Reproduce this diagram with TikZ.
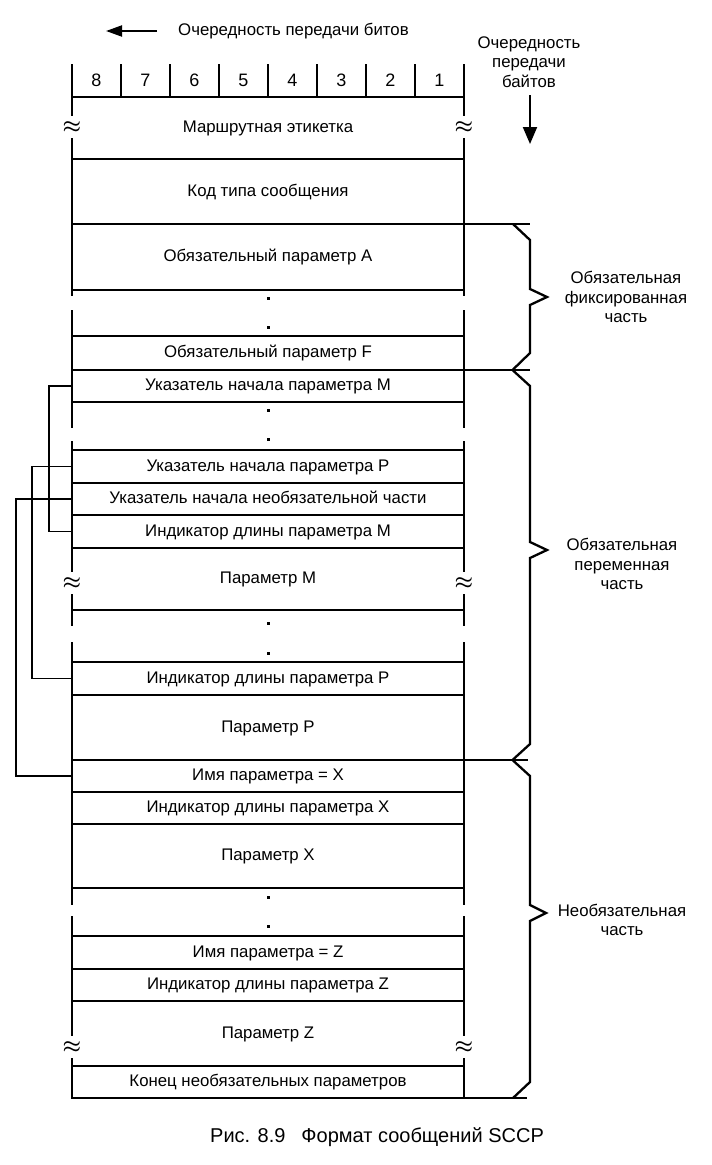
\documentclass[tikz,border=0pt]{standalone}
\usepackage{fontspec}
\setmainfont{Liberation Sans}
\usetikzlibrary{arrows.meta}
\begin{document}
\begin{tikzpicture}[x=1pt,y=-1pt,
  rowline/.style={line width=1.6pt},
  wall/.style={line width=2.6pt},
  tick/.style={line width=1.8pt},
  link/.style={line width=1.5pt},
  bracepath/.style={line width=2.3pt, line join=miter},
  lbl/.style={inner sep=0pt, font=\fontsize{16.8}{19.5}\selectfont},
  rowbox/.style={minimum width=392pt, inner sep=0pt, text height=12pt, text depth=3pt, font=\fontsize{16.8}{19.5}\selectfont},
  brk/.style={fill=white, inner xsep=0pt, inner ysep=5pt, font=\fontsize{22}{22}\selectfont\boldmath},
  dotmark/.style={fill=black}
]
\useasboundingbox[fill=white] (0,0) rectangle (712,1165);

% ---- rows ----
\node[rowbox, minimum height=62pt] (mr)    at (268,128)    {Маршрутная этикетка};
\node[rowbox, minimum height=65pt] (kod)   at (268,191.5)  {Код типа сообщения};
\node[rowbox, minimum height=66pt] (obA)   at (268,257)    {Обязательный параметр A};
\node[rowbox, minimum height=46pt] (d1)    at (268,313)    {};
\node[rowbox, minimum height=34pt] (obF)   at (268,353)    {Обязательный параметр F};
\node[rowbox, minimum height=32pt] (ptrM)  at (268,386)    {Указатель начала параметра M};
\node[rowbox, minimum height=48pt] (d2)    at (268,426)    {};
\node[rowbox, minimum height=33pt] (ptrP)  at (268,466.5)  {Указатель начала параметра P};
\node[rowbox, minimum height=32pt] (ptrO)  at (268,499)    {Указатель начала необязательной части};
\node[rowbox, minimum height=33pt] (indM)  at (268,531.5)  {Индикатор длины параметра M};
\node[rowbox, minimum height=62pt] (parM)  at (268,579)    {Параметр M};
\node[rowbox, minimum height=52pt] (d3)    at (268,636)    {};
\node[rowbox, minimum height=33pt] (indP)  at (268,678.5)  {Индикатор длины параметра P};
\node[rowbox, minimum height=65pt] (parP)  at (268,727.5)  {Параметр P};
\node[rowbox, minimum height=32pt] (nameX) at (268,776)    {Имя параметра = X};
\node[rowbox, minimum height=32pt] (indX)  at (268,808)    {Индикатор длины параметра X};
\node[rowbox, minimum height=64pt] (parX)  at (268,856)    {Параметр X};
\node[rowbox, minimum height=48pt] (d4)    at (268,912)    {};
\node[rowbox, minimum height=33pt] (nameZ) at (268,952.5)  {Имя параметра = Z};
\node[rowbox, minimum height=32pt] (indZ)  at (268,985)    {Индикатор длины параметра Z};
\node[rowbox, minimum height=65pt] (parZ)  at (268,1033.5) {Параметр Z};
\node[rowbox, minimum height=32pt] (endr)  at (268,1082)   {Конец необязательных параметров};

% row separators
\foreach \n in {mr,kod,d1,obF,d2,ptrP,ptrO,indM,parM,d3,indP,parP,indX,parX,d4,nameZ,indZ,parZ,endr}
  \draw[rowline] (\n.north west) -- (\n.north east);
\draw[rowline] (obA.north west) -- (obA.north east) -- ++(66,0);
\draw[rowline] (ptrM.north west) -- (ptrM.north east) -- ++(66,0);
\draw[rowline] (nameX.north west) -- (nameX.north east) -- ++(64,0);
\draw[rowline] (endr.south west) -- (endr.south east) -- ++(63,0);

% dots
\foreach \y in {298,327,410,439,623,653,897,926}
  \fill[dotmark] (266.5,\y-1.5) rectangle (269.5,\y+1.5);

% walls with breaks
\foreach \x in {72,464}{
  \draw[wall] (\x,64) -- (\x,296);
  \draw[wall] (\x,310) -- (\x,428);
  \draw[wall] (\x,441) -- (\x,626);
  \draw[wall] (\x,642) -- (\x,905);
  \draw[wall] (\x,916) -- (\x,1098.8);
}
\foreach \x in {72,464}
  \foreach \y in {127,583,1047}
    \node[brk] at (\x,\y) {$\approx$};

% bit header
\foreach \i in {1,...,7}
  \draw[tick] ({72+\i*49},64) -- ({72+\i*49},97);
\foreach \i in {1,...,8}
  \node[inner sep=0pt, font=\fontsize{18}{20}\selectfont] (b\i) at ({439.5-(\i-1)*49},80) {\i};

% transmission order
\node[lbl, anchor=west] (bitord) at (178,31) {Очередность передачи битов};
\coordinate (bitA) at (157,31);
\coordinate (bitB) at (106,31);
\draw[line width=2pt, -{Triangle[length=16pt,width=11pt]}] (bitA) -- (bitB);

\node[lbl, align=center] (byteord) at (529,62) {Очередность\\передачи\\байтов};
\coordinate (byteA) at (530,95);
\coordinate (byteB) at (530,144);
\draw[line width=2pt, -{Triangle[length=17pt,width=14pt]}] (byteA) -- (byteB);

% pointer connectors
\draw[link] (ptrM.west) -- ++(-23,0) |- (indM.west);
\draw[link] (ptrP.west) -- ++(-40,0) |- (indP.west);
\draw[link] (ptrO.west) -- ++(-56,0) |- (nameX.west);

% braces
\draw[bracepath] (513,224) -- (530,240) -- (530,289) -- (547,297) -- (530,305) -- (530,353) -- (513,369.5);
\draw[bracepath] (513,370.5) -- (530,386) -- (530,542) -- (547,550) -- (530,558) -- (530,744) -- (513,759.5);
\draw[bracepath] (513,760.5) -- (530,776) -- (530,905) -- (546,913) -- (530,921) -- (530,1082) -- (513,1098);

\node[lbl, align=center] (fixp) at (626,297) {Обязательная\\фиксированная\\часть};
\node[lbl, align=center] (varp) at (622,564) {Обязательная\\переменная\\часть};
\node[lbl, align=center] (optp) at (622,920) {Необязательная\\часть};

% caption
\node[inner sep=0pt, font=\fontsize{20}{23}\selectfont] (cap) at (377,1137) {Рис. 8.9\hspace{16pt}Формат сообщений SCCP};
\end{tikzpicture}
\end{document}
